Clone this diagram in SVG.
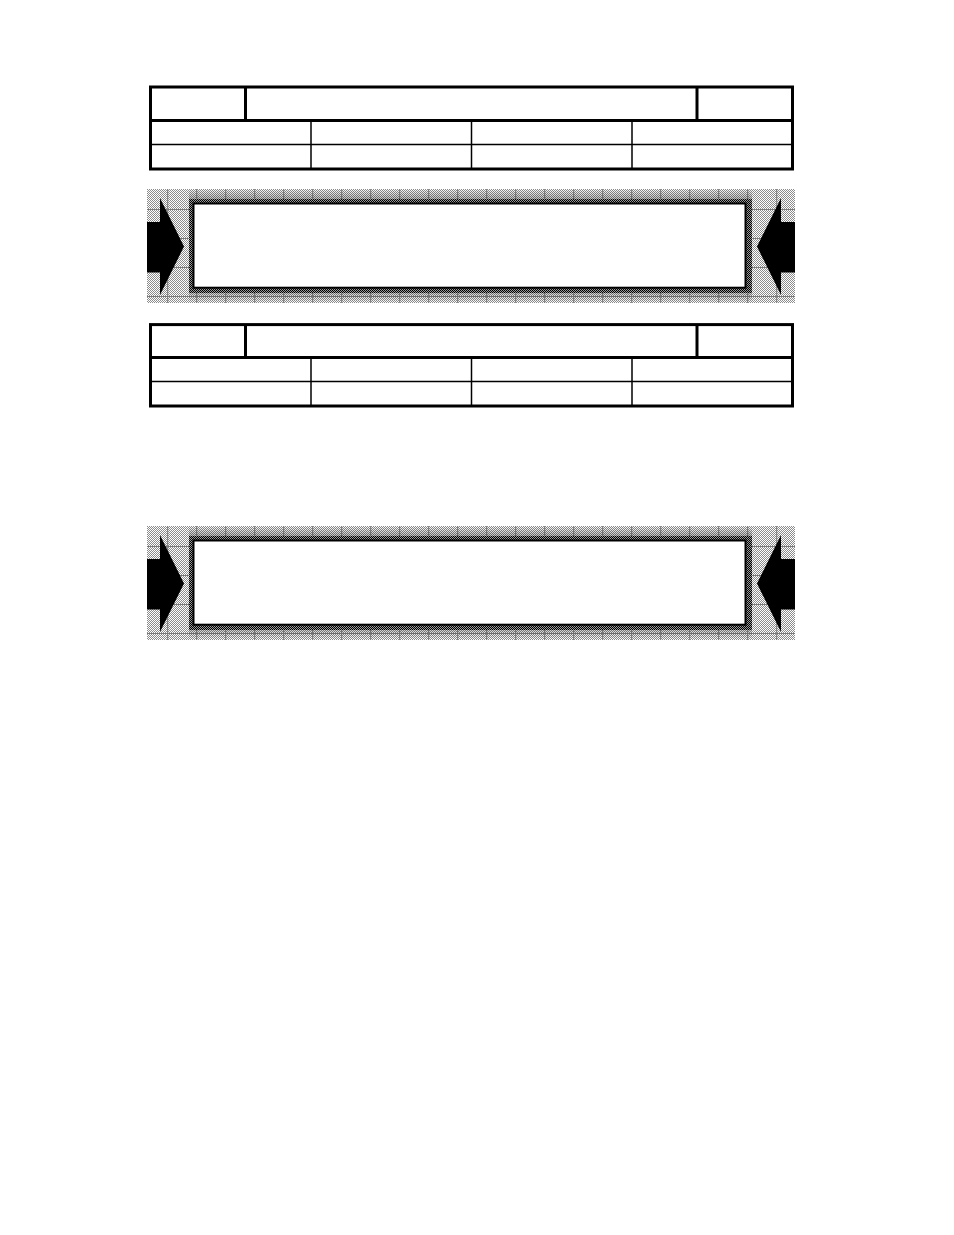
<svg xmlns="http://www.w3.org/2000/svg" width="954" height="1235" viewBox="0 0 954 1235">
  <defs>
    <pattern id="lite" width="2" height="2" patternUnits="userSpaceOnUse">
      <rect width="2" height="2" fill="#ffffff"/>
      <rect x="0" y="0" width="1" height="1" fill="#8c8c8c"/>
      <rect x="1" y="1" width="1" height="1" fill="#8c8c8c"/>
    </pattern>
    <pattern id="dark" width="2" height="2" patternUnits="userSpaceOnUse">
      <rect width="2" height="2" fill="#9a9a9a"/>
      <rect x="0" y="0" width="1" height="1" fill="#000000"/>
      <rect x="1" y="1" width="1" height="1" fill="#000000"/>
    </pattern>
    <linearGradient id="topfade" x1="0" y1="0" x2="0" y2="1">
      <stop offset="0" stop-color="#000" stop-opacity="0"/>
      <stop offset="1" stop-color="#000" stop-opacity="0.35"/>
    </linearGradient>
    <linearGradient id="botfade" x1="0" y1="1" x2="0" y2="0">
      <stop offset="0" stop-color="#000" stop-opacity="0"/>
      <stop offset="1" stop-color="#000" stop-opacity="0.3"/>
    </linearGradient>
    <clipPath id="bandclip">
      <rect x="147" y="189" width="648" height="114"/>
    </clipPath>
  </defs>
  <style>
    .thick { stroke: #000; stroke-width: 3; fill: none; }
    .thin { stroke: #000; stroke-width: 1.5; fill: none; }
    .grid { stroke: #7a7a7a; stroke-width: 1; }
    .box { fill: #fff; stroke: #000; stroke-width: 2; }
    .arrow { fill: #000; stroke: none; }
  </style>

  <rect x="0" y="0" width="954" height="1235" fill="#fff"/>

  <g id="table1">
    <rect class="thick" x="150.5" y="87" width="642" height="82" fill="#fff"/>
    <line class="thick" x1="150.5" y1="120.5" x2="792.5" y2="120.5"/>
    <line class="thick" x1="245.5" y1="87" x2="245.5" y2="120.5"/>
    <line class="thick" x1="697" y1="87" x2="697" y2="120.5"/>
    <line class="thin" x1="150.5" y1="144.5" x2="792.5" y2="144.5"/>
    <line class="thin" x1="311" y1="120.5" x2="311" y2="169"/>
    <line class="thin" x1="471.5" y1="120.5" x2="471.5" y2="169"/>
    <line class="thin" x1="632" y1="120.5" x2="632" y2="169"/>
  </g>

  <g id="band1">
    <g clip-path="url(#bandclip)">
      <rect x="147" y="189" width="648" height="114" fill="url(#lite)"/>
      <g class="grid">
        <line x1="167.7" y1="189" x2="167.7" y2="303"/>
        <line x1="196.7" y1="189" x2="196.7" y2="303"/>
        <line x1="225.7" y1="189" x2="225.7" y2="303"/>
        <line x1="254.7" y1="189" x2="254.7" y2="303"/>
        <line x1="283.7" y1="189" x2="283.7" y2="303"/>
        <line x1="312.7" y1="189" x2="312.7" y2="303"/>
        <line x1="341.7" y1="189" x2="341.7" y2="303"/>
        <line x1="370.7" y1="189" x2="370.7" y2="303"/>
        <line x1="399.7" y1="189" x2="399.7" y2="303"/>
        <line x1="428.7" y1="189" x2="428.7" y2="303"/>
        <line x1="457.7" y1="189" x2="457.7" y2="303"/>
        <line x1="486.7" y1="189" x2="486.7" y2="303"/>
        <line x1="515.7" y1="189" x2="515.7" y2="303"/>
        <line x1="544.7" y1="189" x2="544.7" y2="303"/>
        <line x1="573.7" y1="189" x2="573.7" y2="303"/>
        <line x1="602.7" y1="189" x2="602.7" y2="303"/>
        <line x1="631.7" y1="189" x2="631.7" y2="303"/>
        <line x1="660.7" y1="189" x2="660.7" y2="303"/>
        <line x1="689.7" y1="189" x2="689.7" y2="303"/>
        <line x1="718.7" y1="189" x2="718.7" y2="303"/>
        <line x1="747.7" y1="189" x2="747.7" y2="303"/>
        <line x1="776.7" y1="189" x2="776.7" y2="303"/>
        <line x1="147" y1="209.5" x2="795" y2="209.5"/>
        <line x1="147" y1="238.5" x2="795" y2="238.5"/>
        <line x1="147" y1="267.5" x2="795" y2="267.5"/>
        <line x1="147" y1="296.5" x2="795" y2="296.5"/>
      </g>
      <rect x="189" y="189" width="563" height="14" fill="url(#topfade)"/>
      <rect x="189" y="287" width="563" height="16" fill="url(#botfade)"/>
      <rect x="189" y="199" width="563" height="94" fill="url(#dark)"/>
    </g>
    <polygon class="arrow" points="147,222 160,222 160,198 184,246.5 160,295 160,272.5 147,272.5"/>
    <polygon class="arrow" points="795,222 781,222 781,198 757,246.5 781,295 781,272.5 795,272.5"/>
    <rect class="box" x="193.5" y="203.5" width="552" height="84.2"/>
  </g>

  <g id="table2" transform="translate(0,237.6)">
    <rect class="thick" x="150.5" y="87" width="642" height="81.4" fill="#fff"/>
    <line class="thick" x1="150.5" y1="120" x2="792.5" y2="120"/>
    <line class="thick" x1="245.5" y1="87" x2="245.5" y2="120"/>
    <line class="thick" x1="697" y1="87" x2="697" y2="120"/>
    <line class="thin" x1="150.5" y1="144" x2="792.5" y2="144"/>
    <line class="thin" x1="311" y1="120" x2="311" y2="168.4"/>
    <line class="thin" x1="471.5" y1="120" x2="471.5" y2="168.4"/>
    <line class="thin" x1="632" y1="120" x2="632" y2="168.4"/>
  </g>

  <g id="band2" transform="translate(0,337)">
    <g clip-path="url(#bandclip)">
      <rect x="147" y="189" width="648" height="114" fill="url(#lite)"/>
      <g class="grid">
        <line x1="167.7" y1="189" x2="167.7" y2="303"/>
        <line x1="196.7" y1="189" x2="196.7" y2="303"/>
        <line x1="225.7" y1="189" x2="225.7" y2="303"/>
        <line x1="254.7" y1="189" x2="254.7" y2="303"/>
        <line x1="283.7" y1="189" x2="283.7" y2="303"/>
        <line x1="312.7" y1="189" x2="312.7" y2="303"/>
        <line x1="341.7" y1="189" x2="341.7" y2="303"/>
        <line x1="370.7" y1="189" x2="370.7" y2="303"/>
        <line x1="399.7" y1="189" x2="399.7" y2="303"/>
        <line x1="428.7" y1="189" x2="428.7" y2="303"/>
        <line x1="457.7" y1="189" x2="457.7" y2="303"/>
        <line x1="486.7" y1="189" x2="486.7" y2="303"/>
        <line x1="515.7" y1="189" x2="515.7" y2="303"/>
        <line x1="544.7" y1="189" x2="544.7" y2="303"/>
        <line x1="573.7" y1="189" x2="573.7" y2="303"/>
        <line x1="602.7" y1="189" x2="602.7" y2="303"/>
        <line x1="631.7" y1="189" x2="631.7" y2="303"/>
        <line x1="660.7" y1="189" x2="660.7" y2="303"/>
        <line x1="689.7" y1="189" x2="689.7" y2="303"/>
        <line x1="718.7" y1="189" x2="718.7" y2="303"/>
        <line x1="747.7" y1="189" x2="747.7" y2="303"/>
        <line x1="776.7" y1="189" x2="776.7" y2="303"/>
        <line x1="147" y1="209.5" x2="795" y2="209.5"/>
        <line x1="147" y1="238.5" x2="795" y2="238.5"/>
        <line x1="147" y1="267.5" x2="795" y2="267.5"/>
        <line x1="147" y1="296.5" x2="795" y2="296.5"/>
      </g>
      <rect x="189" y="189" width="563" height="14" fill="url(#topfade)"/>
      <rect x="189" y="287" width="563" height="16" fill="url(#botfade)"/>
      <rect x="189" y="199" width="563" height="94" fill="url(#dark)"/>
    </g>
    <polygon class="arrow" points="147,222 160,222 160,198 184,246.5 160,295 160,272.5 147,272.5"/>
    <polygon class="arrow" points="795,222 781,222 781,198 757,246.5 781,295 781,272.5 795,272.5"/>
    <rect class="box" x="193.5" y="203.5" width="552" height="84.2"/>
  </g>

  <g id="connectors"/>
</svg>
